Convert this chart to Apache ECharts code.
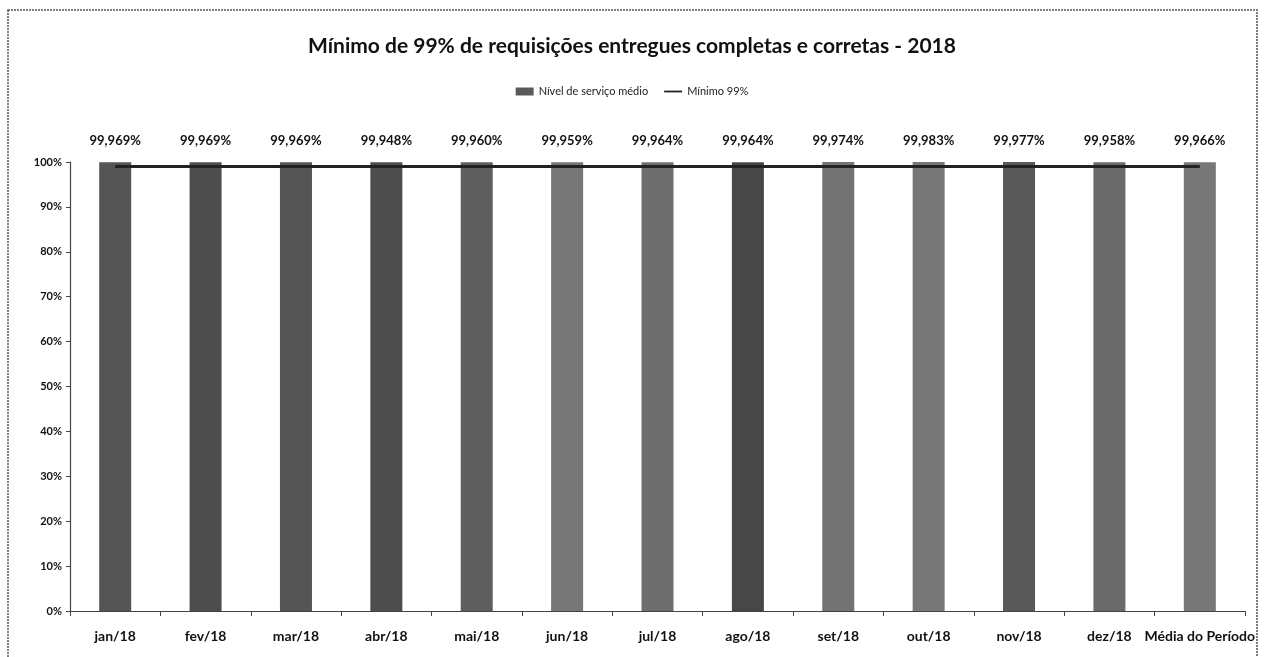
<!DOCTYPE html>
<html><head><meta charset="utf-8">
<script src="https://cdn.jsdelivr.net/npm/echarts@6/dist/echarts.min.js"></script>
<style>html,body{margin:0;padding:0;background:#fff}#c{width:1264px;height:657px}</style>
</head><body><div id="c"></div>
<script>
const categories = ['jan/18','fev/18','mar/18','abr/18','mai/18','jun/18','jul/18','ago/18','set/18','out/18','nov/18','dez/18','Média do Período'];
const nivelServico = [99.969, 99.969, 99.969, 99.948, 99.960, 99.959, 99.964, 99.964, 99.974, 99.983, 99.977, 99.958, 99.966];
const minimo = [99, 99, 99, 99, 99, 99, 99, 99, 99, 99, 99, 99, 99];
const yTicks = [0, 10, 20, 30, 40, 50, 60, 70, 80, 90, 100];
const barShades = ['#555','#4d4d4d','#555','#4d4d4d','#5e5e5e','#767676','#6e6e6e','#474747','#737373','#777','#595959','#6a6a6a','#777'];

const FONT = 'Lato, "Noto Sans", sans-serif';
const chart = echarts.init(document.getElementById('c'));
chart.setOption({
  animation: false,
  textStyle: { fontFamily: FONT },
  title: {
    text: 'Mínimo de 99% de requisições entregues completas e corretas - 2018',
    left: 'center', top: 31,
    textStyle: { fontFamily: FONT, fontSize: 21, fontWeight: 'bold', color: '#111' }
  },
  legend: {
    top: 81, left: 'center', itemGap: 16, itemWidth: 18, itemHeight: 8,
    textStyle: { fontFamily: FONT, fontSize: 11, color: '#222' },
    data: [
      { name: 'Nível de serviço médio', icon: 'rect' },
      { name: 'Mínimo 99%', icon: 'path://M0,4 L20,4 L20,6 L0,6 Z' }
    ]
  },
  graphic: [{
    type: 'rect', silent: true,
    shape: { x: 8, y: 10, width: 1249, height: 660 },
    style: { fill: 'none', stroke: '#555', lineWidth: 1.5, lineDash: [2, 1] }
  }],
  grid: { left: 70, right: 19, top: 162, bottom: 46 },
  xAxis: {
    type: 'category', data: categories, boundaryGap: true,
    axisLine: { lineStyle: { color: '#444', width: 1.2 } },
    axisTick: { show: true, length: 5, lineStyle: { color: '#444' } },
    axisLabel: { interval: 0, color: '#111', fontSize: 14, fontWeight: 'bold', margin: 18, fontFamily: FONT }
  },
  yAxis: {
    type: 'value', min: yTicks[0], max: yTicks[yTicks.length - 1], interval: 10,
    axisLine: { show: true, lineStyle: { color: '#444', width: 1.2 } },
    axisTick: { show: true, length: 4, lineStyle: { color: '#444' } },
    splitLine: { show: false },
    axisLabel: { color: '#111', fontSize: 11, fontWeight: 'bold', margin: 8, fontFamily: FONT,
      formatter: v => v + '%' }
  },
  series: [
    {
      name: 'Nível de serviço médio', type: 'bar', barWidth: 32,
      itemStyle: { color: '#5a5a5a' },
      data: nivelServico.map((v, i) => ({ value: v, itemStyle: { color: barShades[i] } })),
      label: {
        show: true, position: 'top', distance: 15,
        color: '#111', fontSize: 13, fontWeight: 'bold', fontFamily: FONT,
        formatter: p => p.value.toFixed(3).replace('.', ',') + '%'
      },
      z: 2
    },
    {
      name: 'Mínimo 99%', type: 'line', data: minimo,
      symbol: 'none', lineStyle: { color: '#222', width: 3 }, itemStyle: { color: '#222' },
      z: 3
    }
  ]
});
</script></body></html>
